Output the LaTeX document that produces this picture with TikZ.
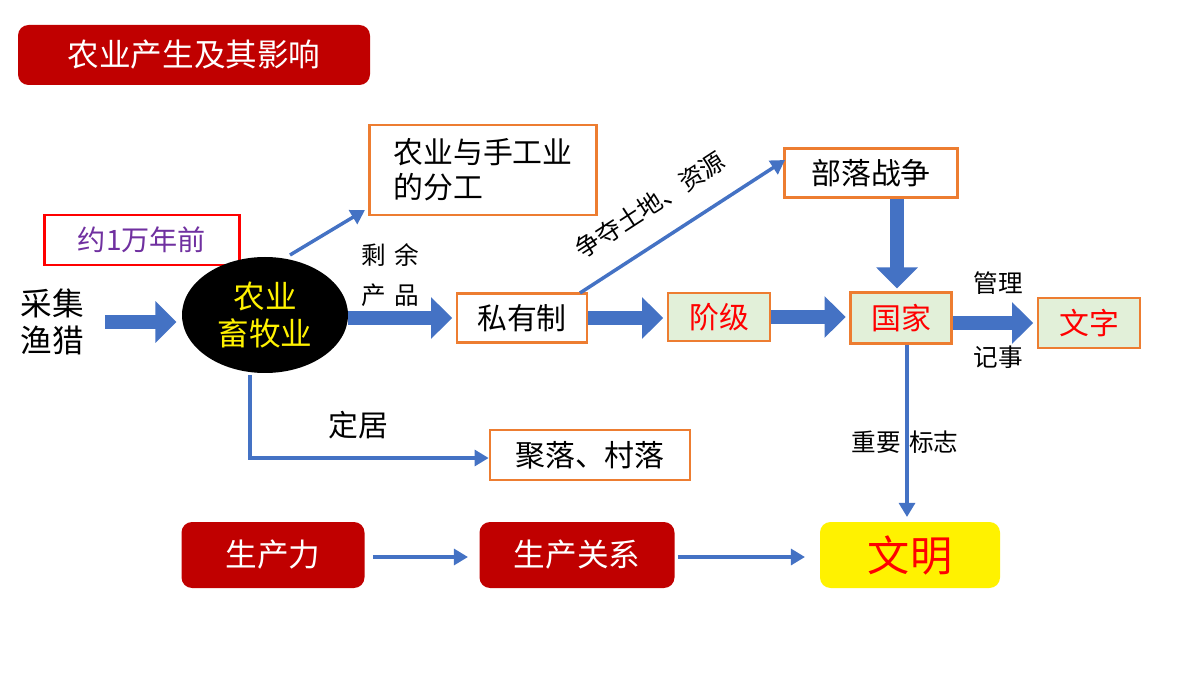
\documentclass[tikz,border=0pt]{standalone}
\usepackage{fontspec}
\setmainfont{Noto Sans CJK SC}
\usetikzlibrary{arrows.meta,shapes.geometric}
\definecolor{ablue}{RGB}{68,114,196}
\definecolor{dred}{RGB}{192,0,0}
\definecolor{obord}{RGB}{237,125,49}
\definecolor{lgreen}{RGB}{226,240,217}
\begin{document}
\begin{tikzpicture}[x=0.02cm,y=-0.02cm,
 ob/.style={draw=obord,line width=1.5pt,fill=white,inner sep=0pt,font=\fontsize{17}{20}\selectfont},
 gb/.style={ob,fill=lgreen,text=red},
 rb/.style={fill=dred,rounded corners=6pt,text=white,font=\fontsize{18}{20}\selectfont},
 big/.style={draw=ablue,line width=8.5pt,-{Triangle[width=23pt,length=12pt]},shorten >=2pt},
 thin/.style={draw=ablue,line width=2pt,-{Triangle[width=9pt,length=8pt]}},
 lab/.style={font=\fontsize{14}{16}\selectfont}]
\useasboundingbox (0,0) rectangle (1200,675);
\node[rb,minimum width=352*0.02cm,minimum height=60*0.02cm] (t) at (194,55) {农业产生及其影响};
\node[draw=red,line width=1.5pt,fill=white,text={rgb,255:red,112;green,48;blue,160},minimum width=195*0.02cm,minimum height=50*0.02cm,font=\fontsize{16}{18}\selectfont] (y) at (142,240) {约1万年前};
\node[align=center,font=\fontsize{18}{21}\selectfont] (c) at (52,322) {采集\\渔猎};
\node[ellipse,fill=black,minimum width=166*0.02cm,minimum height=116*0.02cm,text=yellow,align=center,font=\fontsize{18}{21}\selectfont] (n) at (265,315) {农业\\畜牧业};
\node[ob,minimum width=227*0.02cm,minimum height=90*0.02cm,align=left] (f) at (483,170) {农业与手工业\\的分工};
\node[ob,minimum width=130*0.02cm,minimum height=49*0.02cm] (s) at (522,318) {私有制};
\node[ob,minimum width=173*0.02cm,minimum height=49*0.02cm] (b) at (871,173) {部落战争};
\node[gb,minimum width=102*0.02cm,minimum height=48*0.02cm] (j) at (719,317) {阶级};
\node[gb,minimum width=101*0.02cm,minimum height=51*0.02cm] (g) at (901,318) {国家};
\node[gb,minimum width=102*0.02cm,minimum height=50*0.02cm] (w) at (1089,323) {文字};
\node[ob,minimum width=200*0.02cm,minimum height=50*0.02cm] (v) at (590,455) {聚落、村落};
\node[rb,minimum width=183*0.02cm,minimum height=66*0.02cm] (p1) at (273,555) {生产力};
\node[rb,minimum width=195*0.02cm,minimum height=66*0.02cm] (p2) at (577,555) {生产关系};
\node[fill=yellow,rounded corners=6pt,text=red,minimum width=180*0.02cm,minimum height=66*0.02cm,font=\fontsize{24}{26}\selectfont] (m) at (910,555) {文明};
\coordinate (a1) at (105,322); \coordinate (a2) at (180,322);
\draw[big] (a1) -- (a2);
\draw[thin] (290,255) -- (365,210);
\draw[big] (n.east|-s) -- (s.west);
\draw[big] (s.east) -- (j.west|-s.east);
\draw[big] (j.east) -- (g.west|-j.east);
\draw[big] (g.east|-w) -- (w.west);
\draw[big] (b.south-|897,0) -- (897,292);
\draw[thin] (580,293) -- (785,160);
\draw[thin] (907,345) -- (907,517);
\draw[thin] (250,375) -- (250,458) -- (v.west|-250,458);
\draw[thin] (p1.east) ++(8,2) -- (468,557);
\draw[thin] (p2.east) ++(3,2) -- (805,557);
\node[lab] at (390,255) {剩\,\,余};
\node[lab] at (390,295) {产\,\,品};
\node[lab,rotate=33] at (650,205) {争夺土地、资源};
\node[lab] at (998,283) {管理};
\node[lab] at (998,357) {记事};
\node[lab] at (905,442) {重要\,\,标志};
\node[font=\fontsize{17}{20}\selectfont] at (358,425) {定居};
\end{tikzpicture}
\end{document}
